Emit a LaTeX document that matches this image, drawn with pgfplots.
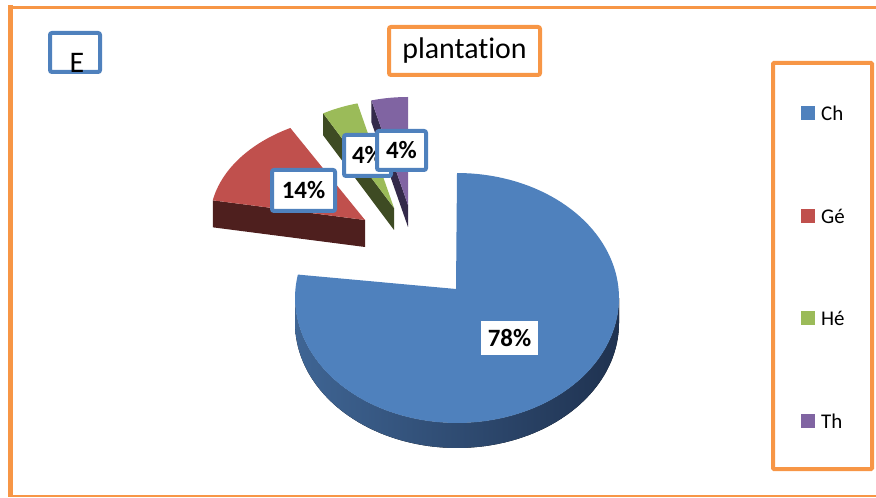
\documentclass[border=0pt]{standalone}
\usepackage{fontspec}
\setmainfont{Carlito}[Ligatures=CommonOff]
\usepackage{pgfplots}
\usepackage{pgfplotstable}
\pgfplotsset{compat=1.18}
\usepgfplotslibrary{fillbetween}
\definecolor{orng}{HTML}{F79646}
\definecolor{cCh}{HTML}{4F81BD}
\definecolor{cGe}{HTML}{C0504D}
\definecolor{cHe}{HTML}{9BBB59}
\definecolor{cTh}{HTML}{8064A2}
\definecolor{dGe}{HTML}{4E1F1E}
\definecolor{dHe}{HTML}{3E4B23}
\definecolor{dTh}{HTML}{342A4A}
\definecolor{dChL}{HTML}{3F6594}
\definecolor{dChR}{HTML}{1F3250}
\pgfplotstableread{
name value
Ch 78
Ge 14
He 4
Th 4
}\pietable
\begin{document}
\begin{tikzpicture}
\pgfplotstablegetelem{0}{value}\of\pietable \let\vCh\pgfplotsretval
\pgfplotstablegetelem{1}{value}\of\pietable \let\vGe\pgfplotsretval
\pgfplotstablegetelem{2}{value}\of\pietable \let\vHe\pgfplotsretval
\pgfplotstablegetelem{3}{value}\of\pietable \let\vTh\pgfplotsretval
\pgfmathsetmacro{\aA}{90}
\pgfmathsetmacro{\aB}{90-3.6*\vCh}
\pgfmathsetmacro{\aC}{\aB-3.6*\vGe}
\pgfmathsetmacro{\aD}{\aC-3.6*\vHe}
\pgfmathsetmacro{\aE}{\aD-3.6*\vTh}
% radial face outer points
\pgfmathsetmacro{\gx}{365+155*cos(\aB)}\pgfmathsetmacro{\gy}{220-105*sin(\aB)}\pgfmathsetmacro{\gyb}{\gy+27}
\pgfmathsetmacro{\hx}{394+147*cos(\aC)}\pgfmathsetmacro{\hy}{208-108*sin(\aC)}\pgfmathsetmacro{\hyb}{\hy+22}
\pgfmathsetmacro{\tx}{408+147*cos(\aD)}\pgfmathsetmacro{\ty}{205-108*sin(\aD)}\pgfmathsetmacro{\tyb}{\ty+22}
\begin{axis}[
  at={(0,498bp)}, anchor=origin,
  scale only axis, width=876bp, height=498bp,
  xmin=0, xmax=876, ymin=0, ymax=498, y dir=reverse,
  hide axis, clip=false]
% blue side (depth)
\addplot[name path=bt, draw=none, domain=-180:0, samples=80] ({457+162*cos(x)},{298-125*sin(x)});
\addplot[name path=bb, draw=none, domain=-180:0, samples=80] ({457+162*cos(x)},{323-125*sin(x)});
\addplot[left color=dChL, right color=dChR, draw=none] fill between[of=bt and bb];
% blue top
\addplot[fill=cCh, draw=none, domain=\aB:\aA, samples=120] ({457+162*cos(x)},{298-125*sin(x)}) -- (axis cs:456,289) -- cycle;
% red
\addplot[fill=dGe, draw=none] coordinates {(\gx,\gy) (365,220) (365,247) (\gx,\gyb)} -- cycle;
\addplot[fill=cGe, draw=none, domain=\aC:\aB, samples=40] ({365+155*cos(x)},{220-105*sin(x)}) -- (axis cs:365,220) -- cycle;
% green
\addplot[fill=dHe, draw=none] coordinates {(\hx,\hy) (394,208) (394,230) (\hx,\hyb)} -- cycle;
\addplot[fill=cHe, draw=none, domain=\aD:\aC, samples=20] ({394+147*cos(x)},{208-108*sin(x)}) -- (axis cs:394,208) -- cycle;
% purple
\addplot[fill=dTh, draw=none] coordinates {(\tx,\ty) (408,205) (408,227) (\tx,\tyb)} -- cycle;
\addplot[fill=cTh, draw=none, domain=\aE:\aD, samples=20] ({408+147*cos(x)},{205-108*sin(x)}) -- (axis cs:408,205) -- cycle;

% data labels
\node[fill=white, minimum width=57bp, minimum height=34bp, inner sep=0pt, font=\fontsize{25}{30}\selectfont\bfseries] at (axis cs:509.5,338) {78\%};
\node[draw=cCh, line width=4bp, rounded corners=2bp, fill=white, minimum width=63bp, minimum height=41bp, inner sep=0pt, font=\fontsize{25}{30}\selectfont\bfseries] at (axis cs:303.5,190.5) {14\%};
\node[draw=cCh, line width=4bp, rounded corners=2bp, fill=white, minimum width=47bp, minimum height=41bp, inner sep=0pt, font=\fontsize{25}{30}\selectfont\bfseries] at (axis cs:367.5,155.5) {4\%};
\node[draw=cCh, line width=4bp, rounded corners=2bp, fill=white, minimum width=49bp, minimum height=39bp, inner sep=0pt, font=\fontsize{25}{30}\selectfont\bfseries] at (axis cs:401.5,150.5) {4\%};

% title and E
\node[draw=orng, line width=4bp, rounded corners=2bp, fill=white, minimum width=151bp, minimum height=48bp, inner sep=0pt, font=\fontsize{30}{36}\selectfont] at (axis cs:464.5,51) {plantation};
\draw[cCh, line width=4bp, rounded corners=2bp] (axis cs:50,33) rectangle (axis cs:100,72);
\node[anchor=base, inner sep=0pt, font=\fontsize{30}{36}\selectfont] at (axis cs:77,72.5) {E};

% legend
\draw[orng, line width=4bp, rounded corners=1bp] (axis cs:773,63) rectangle (axis cs:872,469);
\fill[cCh] (axis cs:801,106) rectangle (axis cs:815,120);
\fill[cGe] (axis cs:801,209) rectangle (axis cs:815,223);
\fill[cHe] (axis cs:801,311) rectangle (axis cs:815,325);
\fill[cTh] (axis cs:801,414) rectangle (axis cs:815,428);
\node[anchor=west, inner sep=0pt, font=\fontsize{21}{25}\selectfont] at (axis cs:821,113) {Ch};
\node[anchor=west, inner sep=0pt, font=\fontsize{21}{25}\selectfont] at (axis cs:821,216) {Gé};
\node[anchor=west, inner sep=0pt, font=\fontsize{21}{25}\selectfont] at (axis cs:821,318) {Hé};
\node[anchor=west, inner sep=0pt, font=\fontsize{21}{25}\selectfont] at (axis cs:821,421) {Th};

% outer border
\draw[orng, line width=3bp] (axis cs:8,7.5) -- (axis cs:876,7.5);
\draw[orng, line width=2bp] (axis cs:8,496) -- (axis cs:876,496);
\draw[orng, line width=5bp] (axis cs:10.5,5) -- (axis cs:10.5,497);
\end{axis}
\pgfresetboundingbox
\useasboundingbox (0,0) rectangle (876bp,498bp);
\end{tikzpicture}
\end{document}
